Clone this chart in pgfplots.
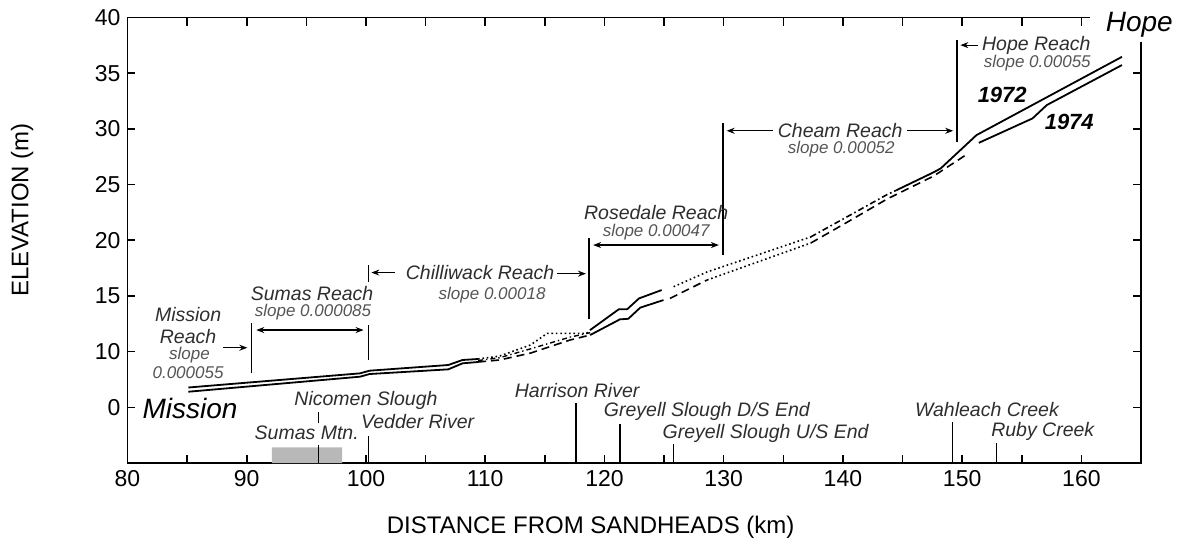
\documentclass[border=0pt]{standalone}
\usepackage{fontspec}
\setmainfont{Liberation Sans}
\usepackage{pgfplots}
\pgfplotsset{compat=1.18}
\usetikzlibrary{arrows.meta}
\definecolor{txtd}{HTML}{2E2E2E}
\definecolor{txtl}{HTML}{555555}
\newcommand{\nm}[3]{\node[font=\fontsize{9.75}{10}\selectfont\itshape, text=txtd, inner sep=0pt] at (axis cs:#1,#2) {#3};}
\newcommand{\slp}[3]{\node[font=\fontsize{8.5}{9}\selectfont\itshape, text=txtl, inner sep=0pt] at (axis cs:#1,#2) {#3};}
\begin{document}
\begin{tikzpicture}
\begin{axis}[
  scale only axis, width=506.75pt, height=222.75pt,
  xmin=80, xmax=165, ymin=0, ymax=40,
  xtick={80,90,...,160}, minor xtick={85,95,...,155},
  ytick={5,10,15,20,25,30,35,40}, yticklabels={0,10,15,20,25,30,35,40},
  tick align=inside, major tick length=4pt, minor tick length=4pt,
  tick style={black, line width=0.8pt},
  axis line style={line width=0.9pt},
  tick label style={font=\fontsize{11.5}{12}\selectfont},
  /pgf/number format/assume math mode=true,
  xlabel={DISTANCE FROM SANDHEADS (km)},
  ylabel={ELEVATION (m)},
  xlabel style={at={(rel axis cs:0.457,-0.1437)}, anchor=center, font=\fontsize{12}{13}\selectfont},
  ylabel style={at={(rel axis cs:-0.104,0.568)}, anchor=center, font=\fontsize{12}{13}\selectfont},
  clip=false,
]
% grey box Sumas Mtn
\addplot[fill=black!28, draw=none, forget plot] coordinates {(92.1,0) (98.0,0) (98.0,1.41) (92.1,1.41)} \closedcycle;

% 1972 (upper)
\addplot[black, line width=0.9pt, forget plot] coordinates {(85.1,6.78) (99.5,8.05) (100.3,8.29) (106.9,8.80) (108.1,9.25) (109.4,9.34)};
\addplot[black, line width=0.8pt, dash pattern=on 0.8pt off 1.4pt, forget plot] coordinates {(109.4,9.34) (111.2,9.6) (113.8,10.6) (115.2,11.64) (118.5,11.64) (118.8,11.94)};
\addplot[black, line width=0.9pt, forget plot] coordinates {(118.8,11.94) (121.2,13.80) (121.9,13.80) (122.9,14.78) (124.8,15.53)};
\addplot[black, line width=0.8pt, dash pattern=on 0.8pt off 1.4pt, forget plot] coordinates {(125.8,15.83) (128.6,17.15) (137.3,20.3)};
\addplot[black, line width=0.8pt, dash pattern=on 3pt off 1.5pt on 0.8pt off 1.5pt, forget plot] coordinates {(137.3,20.3) (140,21.9) (143.7,24.1) (144.5,24.5)};
\addplot[black, line width=0.9pt, forget plot] coordinates {(144.5,24.5) (147.6,26.1) (148.2,26.45) (151.2,29.44) (163.4,36.47)};

% 1974 (lower)
\addplot[black, line width=0.9pt, forget plot] coordinates {(85.1,6.40) (99.5,7.75) (100.3,7.99) (106.9,8.41) (108.1,8.95) (109.4,9.07)};
\addplot[black, line width=0.8pt, dash pattern=on 4pt off 2.5pt, forget plot] coordinates {(109.4,9.07) (111.2,9.25) (113.8,9.87) (117.1,11.04) (118.8,11.49)};
\addplot[black, line width=0.9pt, forget plot] coordinates {(118.8,11.49) (121.3,12.9) (122.0,12.95) (123.0,13.95) (124.95,14.63)};
\addplot[black, line width=0.8pt, dash pattern=on 4pt off 2.5pt, forget plot] coordinates {(125.5,14.78) (128.6,16.43)};
\addplot[black, line width=0.8pt, dash pattern=on 0.8pt off 1.4pt, forget plot] coordinates {(128.6,16.43) (137.3,19.75)};
\addplot[black, line width=0.8pt, dash pattern=on 4pt off 2.5pt, forget plot] coordinates {(137.3,19.75) (140,21.4) (143.7,23.7) (147.6,25.76) (150.3,27.65)};
\addplot[black, line width=0.9pt, forget plot] coordinates {(151.4,28.75) (155.9,30.94) (157.1,32.14) (163.4,35.73)};

% middle dash-dot trace
\addplot[black, line width=0.7pt, dash pattern=on 2.5pt off 1.5pt on 0.7pt off 1.5pt, forget plot] coordinates {(109.4,9.2) (111.2,9.45) (113.8,10.25) (117.1,11.3) (118.8,11.7)};

% location markers
\addplot[black, line width=0.7pt, forget plot] coordinates {(96.0,3.56) (96.0,4.6)};
\addplot[black, line width=0.7pt, forget plot] coordinates {(96.0,0) (96.0,1.62)};
\addplot[black, line width=0.7pt, forget plot] coordinates {(100.2,0) (100.2,2.42)};
\addplot[black, line width=0.7pt, forget plot] coordinates {(117.6,0) (117.6,5.41)};
\addplot[black, line width=0.7pt, forget plot] coordinates {(121.3,0) (121.3,3.5)};
\addplot[black, line width=0.7pt, forget plot] coordinates {(125.8,0) (125.8,1.71)};
\addplot[black, line width=0.7pt, forget plot] coordinates {(149.2,0) (149.2,3.71)};
\addplot[black, line width=0.7pt, forget plot] coordinates {(152.9,0) (152.9,1.82)};

% reach boundaries
\draw[line width=0.7pt] (axis cs:90.42,8.05) -- (axis cs:90.42,12.54);
\draw[line width=0.7pt] (axis cs:100.2,9.25) -- (axis cs:100.2,12.39);
\draw[line width=0.7pt] (axis cs:100.2,16.25) -- (axis cs:100.2,17.77);
\draw[line width=0.7pt] (axis cs:118.7,12.93) -- (axis cs:118.7,20.2);
\draw[line width=0.7pt] (axis cs:129.93,18.67) -- (axis cs:129.93,30.52);
\draw[line width=0.7pt] (axis cs:149.56,28.84) -- (axis cs:149.56,37.97);

% arrows
\draw[line width=0.6pt, -{Stealth[length=4pt,width=3pt]}] (axis cs:88.0,10.35) -- (axis cs:90.05,10.35);
\draw[line width=0.6pt, {Stealth[length=4pt,width=3pt]}-{Stealth[length=4pt,width=3pt]}] (axis cs:90.8,11.94) -- (axis cs:99.8,11.94);
\draw[line width=0.6pt, -{Stealth[length=4pt,width=3pt]}] (axis cs:102.44,17.1) -- (axis cs:100.45,17.1);
\draw[line width=0.6pt, -{Stealth[length=4pt,width=3pt]}] (axis cs:116.0,17.0) -- (axis cs:118.45,17.0);
\draw[line width=0.6pt, {Stealth[length=4pt,width=3pt]}-{Stealth[length=4pt,width=3pt]}] (axis cs:119.05,19.57) -- (axis cs:129.6,19.57);
\draw[line width=0.6pt, -{Stealth[length=4pt,width=3pt]}] (axis cs:134.15,29.83) -- (axis cs:130.25,29.83);
\draw[line width=0.6pt, -{Stealth[length=4pt,width=3pt]}] (axis cs:145.4,29.83) -- (axis cs:149.25,29.83);
\draw[line width=0.6pt, -{Stealth[length=4pt,width=3pt]}] (axis cs:151.35,37.52) -- (axis cs:149.85,37.52);

% reach labels
\nm{85.08}{13.35}{Mission}
\nm{85.08}{11.35}{Reach}
\slp{85.2}{9.72}{slope}
\slp{85.08}{8.15}{0.000055}
\nm{95.48}{15.23}{Sumas Reach}
\slp{95.56}{13.58}{slope 0.000085}
\nm{109.57}{17.1}{Chilliwack Reach}
\slp{110.58}{15.08}{slope 0.00018}
\nm{124.34}{22.47}{Rosedale Reach}
\slp{124.34}{20.76}{slope 0.00047}
\nm{139.77}{29.89}{Cheam Reach}
\slp{139.86}{28.19}{slope 0.00052}
\nm{156.22}{37.52}{Hope Reach}
\slp{156.3}{35.93}{slope 0.00055}

% year labels
\node[font=\fontsize{11}{12}\selectfont\bfseries\itshape, inner sep=0pt] at (axis cs:153.36,33.03) {1972};
\node[font=\fontsize{11}{12}\selectfont\bfseries\itshape, inner sep=0pt] at (axis cs:158.98,30.64) {1974};

% places
\node[font=\fontsize{14}{15}\selectfont\itshape, inner sep=0pt] at (axis cs:85.24,4.91) {Mission};
\nm{100.0}{5.66}{Nicomen Slough}
\nm{95.03}{2.67}{Sumas Mtn.}
\nm{104.33}{3.68}{Vedder River}
\nm{117.71}{6.55}{Harrison River}
\nm{128.59}{4.6}{Greyell Slough D/S End}
\nm{133.52}{2.69}{Greyell Slough U/S End}
\nm{152.08}{4.82}{Wahleach Creek}
\nm{156.76}{2.81}{Ruby Creek}

\coordinate (hA) at (axis cs:160.75,37.79);
\coordinate (hB) at (rel axis cs:1.035,1.02);
\coordinate (hC) at (axis cs:164.86,39.32);
\path (rel axis cs:-0.1258,-0.1908) rectangle (rel axis cs:1.0355,1.0393);
\end{axis}
\fill[white] (hA) rectangle (hB);
\node[font=\fontsize{14}{15}\selectfont\itshape, inner sep=0pt] at (hC) {Hope};
\end{tikzpicture}
\end{document}
